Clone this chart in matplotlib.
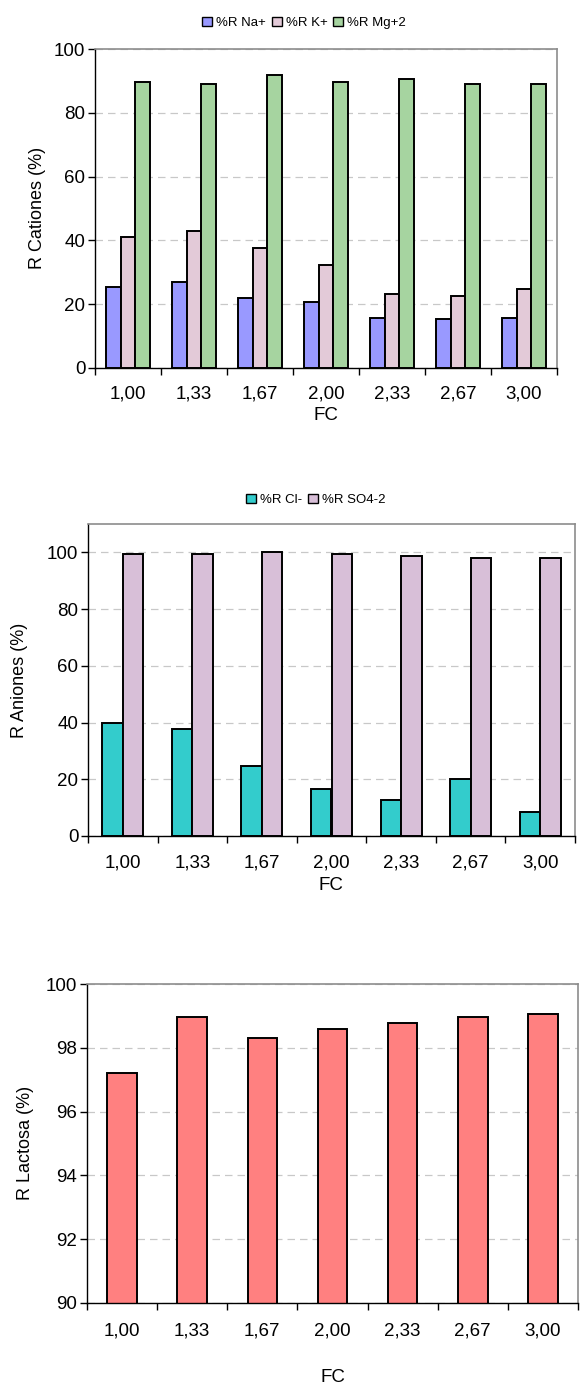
import numpy as np
import matplotlib
matplotlib.use("Agg")
import matplotlib.pyplot as plt
from matplotlib.patches import Patch

plt.rcParams['font.family'] = ['Liberation Sans', 'DejaVu Sans']

# Concentration factor categories
fc_labels = ["1,00", "1,33", "1,67", "2,00", "2,33", "2,67", "3,00"]

# Cation rejection (%)
r_na = [25.3, 27.0, 21.9, 20.7, 15.7, 15.2, 15.7]
r_k = [41.1, 42.8, 37.7, 32.1, 23.0, 22.6, 24.8]
r_mg = [89.6, 89.0, 91.8, 89.6, 90.7, 89.0, 89.0]

# Anion rejection (%)
r_cl = [39.7, 37.7, 24.8, 16.7, 12.7, 20.1, 8.5]
r_so4 = [99.3, 99.3, 100.0, 99.3, 98.7, 98.0, 98.0]

# Lactose rejection (%)
r_lactosa = [97.2, 98.96, 98.3, 98.6, 98.78, 98.96, 99.08]

W, H = 582, 1387
FS = 13.5
fig = plt.figure(figsize=(W / 100, H / 100), dpi=100)


def add_axes_px(x0, x1, y0, y1):
    return fig.add_axes([x0 / W, 1 - y1 / H, (x1 - x0) / W, (y1 - y0) / H])


def style_axes(ax, ylim, yticks, label_pad):
    n = len(fc_labels)
    ax.set_xlim(-0.5, n - 0.5)
    ax.set_ylim(*ylim)
    ax.set_yticks(yticks)
    ax.set_yticklabels([f"{t:g}" for t in yticks], fontsize=FS)
    ax.set_xticks(np.arange(-0.5, n, 1.0))
    ax.set_xticklabels([])
    ax.set_xticks(np.arange(n), minor=True)
    ax.set_xticklabels(fc_labels, minor=True, fontsize=FS)
    ax.tick_params(axis='x', which='major', direction='out', length=5, width=1, color='black')
    ax.tick_params(axis='x', which='minor', length=0, pad=label_pad)
    ax.tick_params(axis='y', direction='out', length=5, width=1, color='black', pad=2)
    for s in ('left', 'bottom'):
        ax.spines[s].set_color('black')
        ax.spines[s].set_linewidth(1.0)
    for s in ('top', 'right'):
        ax.spines[s].set_color('#8c8c8c')
        ax.spines[s].set_linewidth(1.2)
    ax.set_axisbelow(True)
    ax.yaxis.grid(True, color='#c8c8c8', linestyle=(0, (6, 4)), linewidth=0.9)
    ax.xaxis.grid(False)


def legend(handles, cx, cy):
    fig.legend(handles=handles, loc='center', bbox_to_anchor=(cx / W, 1 - cy / H),
               ncol=len(handles), frameon=False, fontsize=9.5, handlelength=0.75,
               handleheight=0.75, handletextpad=0.3, columnspacing=0.45, borderpad=0)


x = np.arange(len(fc_labels))
edge = dict(edgecolor='black', linewidth=1.4)

# --- Cations ---
ax1 = add_axes_px(95, 557, 49.3, 367.7)
w1 = 0.227
ax1.bar(x - w1, r_na, w1, color='#9999FF', **edge)
ax1.bar(x, r_k, w1, color='#E3CAD8', **edge)
ax1.bar(x + w1, r_mg, w1, color='#A6D4A0', **edge)
style_axes(ax1, (0, 100), [0, 20, 40, 60, 80, 100], 13)
fig.text(38 / W, 1 - 208 / H, "R Cationes (%)", rotation=90, ha='center', va='center', fontsize=13)
fig.text(326 / W, 1 - 416 / H, "FC", ha='center', va='center', fontsize=FS)
legend([Patch(facecolor='#9999FF', edgecolor='black', label='%R Na+'),
        Patch(facecolor='#E3CAD8', edgecolor='black', label='%R K+'),
        Patch(facecolor='#A6D4A0', edgecolor='black', label='%R Mg+2')], 304, 23)

# --- Anions ---
ax2 = add_axes_px(88, 575, 524, 836)
w2 = 0.295
ax2.bar(x - w2 / 2, r_cl, w2, color='#33CCCC', **edge)
ax2.bar(x + w2 / 2, r_so4, w2, color='#D8BFD8', **edge)
style_axes(ax2, (0, 110), [0, 20, 40, 60, 80, 100], 13)
fig.text(20 / W, 1 - 680 / H, "R Aniones (%)", rotation=90, ha='center', va='center', fontsize=13)
fig.text(331 / W, 1 - 886 / H, "FC", ha='center', va='center', fontsize=FS)
legend([Patch(facecolor='#33CCCC', edgecolor='black', label='%R Cl-'),
        Patch(facecolor='#D8BFD8', edgecolor='black', label='%R SO4-2')], 316, 500)

# --- Lactose ---
ax3 = add_axes_px(87, 578, 984.3, 1302.7)
w3 = 0.42
ax3.bar(x, r_lactosa, w3, color='#FF8080', **edge)
style_axes(ax3, (90, 100), [90, 92, 94, 96, 98, 100], 14.5)
fig.text(26 / W, 1 - 1143 / H, "R Lactosa (%)", rotation=90, ha='center', va='center', fontsize=13)
fig.text(333 / W, 1 - 1377 / H, "FC", ha='center', va='center', fontsize=FS)

fig.savefig("out.png", dpi=100, facecolor='white')
